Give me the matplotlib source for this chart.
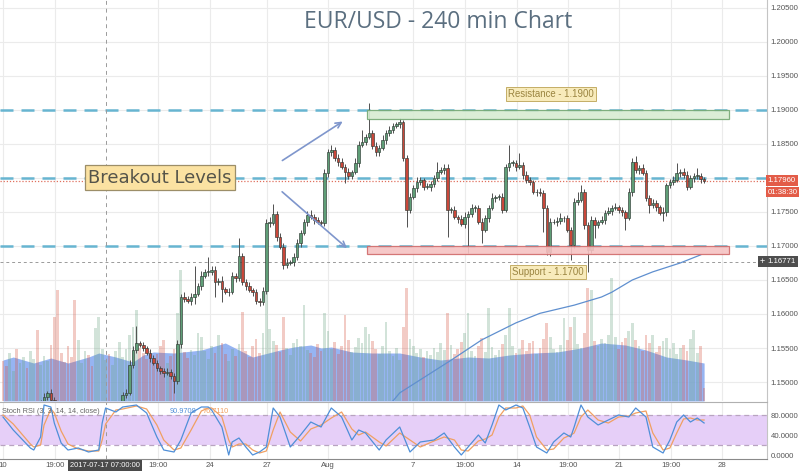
import matplotlib
matplotlib.use('Agg')
import matplotlib.pyplot as plt
import numpy as np
from matplotlib.patches import Rectangle

plt.rcParams['font.family'] = ['Liberation Sans', 'DejaVu Sans']

# ---------------- data ----------------
closes = [
    1.1400, 1.1395, 1.1405, 1.1412, 1.1408, 1.1420, 1.1432, 1.1428, 1.1440, 1.1452,
    1.1448, 1.1470, 1.1478, 1.1484, 1.1474, 1.1460, 1.1452, 1.1440, 1.1425, 1.1418,
    1.1405, 1.1398, 1.1410, 1.1422, 1.1430, 1.1418, 1.1405, 1.1412, 1.1428, 1.1440,
    1.1452, 1.1446, 1.1458, 1.1465, 1.1468, 1.1481, 1.1484, 1.1525, 1.1547, 1.1557,
    1.1554, 1.1550, 1.1543, 1.1535, 1.1528, 1.1521, 1.1516, 1.1513, 1.1514, 1.1509,
    1.1501, 1.1556, 1.1625, 1.1622, 1.1619, 1.1625, 1.1630, 1.1641, 1.1656, 1.1662,
    1.1662, 1.1665, 1.1647, 1.1649, 1.1637, 1.1632, 1.1633, 1.1656, 1.1653, 1.1685,
    1.1647, 1.1641, 1.1635, 1.1632, 1.1619, 1.1618, 1.1634, 1.1734, 1.1734, 1.1747,
    1.1713, 1.1699, 1.1672, 1.1675, 1.1676, 1.1684, 1.1704, 1.1719, 1.1735, 1.1746,
    1.1743, 1.1738, 1.1735, 1.1734, 1.1807, 1.1838, 1.1841, 1.1829, 1.1824, 1.1816,
    1.1809, 1.1803, 1.1809, 1.1822, 1.1849, 1.1853, 1.1860, 1.1866, 1.1847, 1.1838,
    1.1844, 1.1856, 1.1866, 1.1871, 1.1876, 1.1879, 1.1882, 1.1829, 1.1753, 1.1772,
    1.1785, 1.1794, 1.1797, 1.1787, 1.1787, 1.1791, 1.1800, 1.1809, 1.1812, 1.1815,
    1.1753, 1.1753, 1.1743, 1.1740, 1.1732, 1.1743, 1.1747, 1.1756, 1.1756, 1.1735,
    1.1724, 1.1741, 1.1756, 1.1771, 1.1772, 1.1772, 1.1753, 1.1816, 1.1822, 1.1822,
    1.1816, 1.1819, 1.1804, 1.1797, 1.1794, 1.1779, 1.1779, 1.1778, 1.1756, 1.1691,
    1.1735, 1.1735, 1.1737, 1.1741, 1.1741, 1.1724, 1.1701, 1.1765, 1.1768, 1.1779,
    1.1731, 1.1694, 1.1738, 1.1731, 1.1735, 1.1738, 1.1749, 1.1751, 1.1756, 1.1757,
    1.1753, 1.1750, 1.1741, 1.1779, 1.1824, 1.1812, 1.1815, 1.1807, 1.1771, 1.1760,
    1.1763, 1.1757, 1.1749, 1.1750, 1.1790, 1.1794, 1.1797, 1.1807, 1.1809, 1.1804,
    1.1787, 1.1800, 1.1803, 1.1803, 1.1798, 1.1796,
]
first_open = 1.1405

upper_wick_pips = [
    4, 6, 3, 5, 4, 7, 3, 5, 6, 4,
    5, 4, 6, 3, 5, 4, 6, 5, 3, 4,
    6, 4, 5, 3, 7, 4, 5, 6, 4, 3,
    5, 4, 6, 5, 3, 4, 5, 8, 6, 25,
    4, 5, 3, 6, 4, 5, 3, 4, 6, 5,
    4, 6, 5, 8, 4, 6, 40, 5, 7, 4,
    22, 6, 5, 4, 7, 3, 5, 6, 4, 27,
    5, 4, 6, 3, 5, 4, 6, 5, 8, 15,
    4, 6, 5, 7, 3, 5, 6, 4, 5, 6,
    7, 4, 5, 3, 6, 5, 8, 4, 6, 5,
    4, 5, 3, 7, 6, 18, 5, 44, 4, 6,
    5, 7, 4, 6, 5, 3, 6, 4, 5, 6,
    4, 7, 5, 3, 6, 4, 5, 15, 4, 6,
    5, 4, 6, 3, 5, 7, 4, 6, 5, 4,
    6, 5, 4, 7, 3, 5, 6, 4, 27, 5,
    4, 18, 5, 6, 4, 3, 5, 6, 4, 5,
    6, 4, 5, 7, 3, 5, 4, 6, 11, 11,
    5, 4, 6, 5, 3, 6, 4, 7, 5, 6,
    4, 5, 3, 6, 5, 8, 4, 6, 5, 4,
    6, 5, 4, 7, 3, 5, 6, 15, 4, 5,
    6, 4, 5, 12, 4, 3,
]
lower_wick_pips = [
    5, 4, 6, 3, 5, 4, 6, 4, 5, 3,
    6, 5, 4, 5, 3, 6, 4, 5, 3, 6,
    4, 5, 6, 3, 5, 4, 6, 3, 5, 4,
    6, 4, 5, 3, 6, 4, 5, 3, 4, 5,
    3, 5, 4, 6, 3, 5, 4, 6, 3, 5,
    17, 4, 6, 5, 3, 6, 10, 4, 5, 3,
    6, 5, 22, 4, 19, 3, 5, 4, 6, 5,
    4, 6, 3, 5, 4, 6, 5, 4, 6, 3,
    5, 4, 6, 4, 3, 5, 4, 6, 3, 5,
    4, 6, 3, 5, 4, 6, 5, 4, 6, 3,
    16, 4, 5, 3, 6, 4, 5, 3, 4, 6,
    5, 3, 6, 4, 5, 3, 6, 4, 25, 5,
    3, 6, 4, 5, 3, 6, 4, 5, 3, 6,
    40, 5, 4, 6, 3, 5, 53, 4, 6, 3,
    20, 4, 5, 3, 6, 4, 5, 3, 6, 4,
    5, 3, 6, 4, 5, 3, 6, 4, 35, 4,
    5, 3, 6, 4, 5, 3, 22, 4, 5, 3,
    6, 32, 4, 19, 5, 3, 6, 4, 5, 3,
    4, 6, 17, 3, 5, 4, 6, 3, 5, 11,
    4, 5, 3, 12, 6, 4, 5, 3, 6, 4,
    5, 3, 6, 4, 5, 4,
]

volumes = [
    40, 35, 48, 30, 52, 38, 44, 33, 50, 42,
    71, 36, 45, 40, 56, 84, 111, 48, 39, 55,
    44, 101, 61, 38, 50, 46, 35, 73, 84, 52,
    41, 47, 36, 50, 59, 44, 52, 66, 74, 91,
    53, 48, 42, 50, 39, 47, 55, 61, 38, 45,
    52, 88, 131, 49, 43, 51, 46, 68, 64, 50,
    42, 55, 48, 66, 58, 47, 40, 52, 45, 57,
    89, 50, 44, 55, 62, 48, 68, 118, 72, 60,
    56, 49, 84, 53, 46, 58, 62, 55, 96, 51,
    48, 44, 57, 50, 88, 70, 52, 59, 47, 55,
    86, 61, 49, 54, 63, 58, 74, 67, 60, 52,
    47, 55, 79, 50, 45, 53, 41, 74, 113, 62,
    55, 48, 52, 44, 50, 46, 53, 49, 58, 51,
    88, 56, 47, 52, 59, 68, 88, 50, 45, 55,
    63, 49, 93, 54, 46, 51, 57, 66, 93, 55,
    48, 52, 61, 50, 58, 60, 47, 53, 62, 78,
    64, 52, 49, 56, 83, 61, 74, 84, 57, 53,
    68, 113, 111, 60, 55, 62, 58, 66, 123, 64,
    52, 59, 63, 70, 78, 61, 55, 50, 66, 58,
    66, 49, 55, 60, 63, 52, 58, 47, 53, 56,
    50, 62, 71, 48, 55, 13,
]
vol_ma_idx = [0, 3, 9, 14, 19, 25, 28, 33, 38, 41, 44, 50, 58, 65, 69, 73, 81, 85,
              90, 93, 96, 102, 108, 116, 122, 128, 136, 142, 148, 155, 162, 169,
              175, 182, 188, 194, 200, 205]
vol_ma_val = [41, 44, 38, 43, 38, 44, 48, 44, 39, 46, 49, 48, 51, 58, 51, 44, 51, 54,
              56, 53, 54, 49, 48, 48, 44, 41, 44, 43, 46, 48, 49, 53,
              58, 56, 51, 44, 41, 38]

sma_idx = [110, 114, 116, 131, 140, 150, 157, 167, 175, 178, 184, 190, 198, 204]
sma_val = [1.1462, 1.1472, 1.1484, 1.1532, 1.1562, 1.1587, 1.1601, 1.1613, 1.1625,
           1.1632, 1.1650, 1.1662, 1.1675, 1.1687]

stoch_idx = [0, 3, 8, 9, 11, 12, 14, 15, 17, 19, 22, 25, 28, 29, 30, 33, 35, 39, 42, 45,
             47, 50, 52, 55, 58, 60, 61, 64, 66, 67, 69, 71, 73, 75, 77, 79, 81, 84, 87,
             90, 93, 96, 99, 102, 104, 106, 110, 112, 116, 119, 122, 126, 129, 132, 134,
             136, 139, 141, 143, 145, 147, 150, 152, 154, 156, 159, 161, 164, 166, 167,
             169, 171, 174, 177, 180, 183, 185, 188, 190, 193, 195, 197, 199, 201, 203, 205]
stoch_k = [76, 50, 14, 10, 36, 100, 96, 64, 24, 10, 14, 6, 10, 64, 94, 86, 96, 100, 84, 36,
           10, 6, 30, 84, 96, 96, 90, 56, 0, 26, 34, 16, 0, 6, 16, 94, 76, 16, 40,
           66, 56, 94, 76, 30, 50, 44, 10, 30, 56, 6, 26, 30, 44, 16, 0,
           16, 40, 24, 60, 100, 90, 100, 94, 56, 16, 4, 26, 44, 36, 56,
           100, 76, 60, 70, 80, 76, 94, 76, 16, 4, 30, 66, 80, 66, 74, 64]
stoch_d = [80, 62, 22, 16, 20, 60, 92, 84, 48, 22, 12, 8, 8, 30, 62, 90, 92, 98, 92, 60,
           30, 10, 14, 50, 88, 94, 94, 76, 30, 16, 22, 22, 10, 4, 8, 50, 86, 46, 28,
           52, 60, 74, 86, 52, 40, 46, 26, 18, 44, 30, 16, 28, 36, 30, 10,
           8, 28, 32, 40, 76, 94, 94, 98, 80, 36, 10, 12, 34, 40, 44,
           76, 90, 70, 64, 76, 78, 84, 88, 44, 10, 14, 44, 72, 74, 70, 70]

levels = [1.19, 1.18, 1.17]
resistance_zone = (1.1887, 1.1900)
support_zone = (1.1688, 1.1700)
zone_idx = (106.4, 212.3)
last_price = 1.1796
cross_price = 1.16771
cross_idx = 30.1
price_ticks = [1.150, 1.155, 1.160, 1.165, 1.170, 1.175, 1.180, 1.185, 1.190,
               1.195, 1.200, 1.205]
hidden_price_tick = 1.180   # covered by the last-price box in the chart
stoch_ticks = [0, 40, 80]
time_tick_pos = [0, 15.2, 45.3, 60.5, 77.2, 95, 119.9, 135.1, 150.3, 165.2, 180.1,
                 195.3, 210.2]
time_tick_labels = ['10', '19:00', '19:00', '24', '27', 'Aug', '7', '19:00', '14',
                    '19:00', '21', '19:00', '28']

# ---------------- figure ----------------
W, H = 800, 471
fig = plt.figure(figsize=(8, 4.71), dpi=100)
fig.patch.set_facecolor('white')


def rect(l, t, r, b):
    return [l / W, 1 - b / H, (r - l) / W, (b - t) / H]


XL = (-0.877, 223.39)
YL = (1.147206, 1.206176)
FS = 5.6

axv = fig.add_axes(rect(0, 0, 767, 401), zorder=0)
ax = fig.add_axes(rect(0, 0, 767, 401), zorder=1)
ax.patch.set_visible(False)
ax2 = fig.add_axes(rect(0, 402, 767, 459), zorder=1)

UP = '#5f9e77'
DN = '#c9473a'
GRID = '#ebebeb'

# volume layer
x = np.arange(len(closes))
c = np.array(closes)
o = np.array([first_open] + closes[:-1])
up = c >= o
axv.fill_between(vol_ma_idx, 0, vol_ma_val, color='#84a7f0', alpha=0.85, lw=0, zorder=1)
axv.bar(x, volumes, width=0.8, color=np.where(up, '#6ba583', '#d75442'), alpha=0.3,
        lw=0, zorder=2)
axv.set_xlim(XL)
axv.set_ylim(0, 401)
axv.set_xticks([])
axv.set_yticks([])
for s in axv.spines.values():
    s.set_visible(False)
for p in time_tick_pos:
    axv.axvline(p, color=GRID, lw=0.8, zorder=0)
for p in price_ticks:
    axv.axhline((p - YL[0]) / (YL[1] - YL[0]) * 401, color=GRID, lw=0.8, zorder=0)

# price layer
ax.set_xlim(XL)
ax.set_ylim(YL)
hi = np.maximum(o, c) + np.array(upper_wick_pips) / 10000
lo = np.minimum(o, c) - np.array(lower_wick_pips) / 10000
ax.vlines(x, lo, hi, color='#505050', lw=0.7, zorder=4)
body = np.maximum(np.abs(c - o), 0.00008)
ax.bar(x, body, bottom=np.minimum(o, c), width=0.75, color=np.where(up, UP, DN),
       edgecolor='#2f3a34', linewidth=0.45, zorder=5)

ax.plot(sma_idx, sma_val, color='#5f8fcf', lw=0.9, zorder=3)

for lv in levels:
    ax.axhline(lv, color='#67b5d1', lw=1.8, ls=(0, (5.2, 3.2)), zorder=2)
ax.axhline(last_price, color='#e0705e', lw=0.9, ls=(0, (1, 1.5)), zorder=2)
ax.axhline(cross_price, color='#9a9a9a', lw=0.7, ls=(0, (3, 3)), zorder=2)
ax.axvline(cross_idx, color='#9a9a9a', lw=0.7, ls=(0, (4, 4)), zorder=2)

ax.add_patch(Rectangle((zone_idx[0], resistance_zone[0]), zone_idx[1] - zone_idx[0],
                       resistance_zone[1] - resistance_zone[0], facecolor='#d7ecd2',
                       edgecolor='#74a874', lw=0.9, alpha=0.9, zorder=6))
ax.add_patch(Rectangle((zone_idx[0], support_zone[0]), zone_idx[1] - zone_idx[0],
                       support_zone[1] - support_zone[0], facecolor='#f6c2c2',
                       edgecolor='#d06a6a', lw=0.9, alpha=0.9, zorder=6))

ax.text(160.2, 1.19235, 'Resistance - 1.1900', fontsize=6.9, color='#9a8440',
        ha='center', va='center', zorder=8,
        bbox=dict(boxstyle='square,pad=0.22', fc='#f8ebbb', ec='#c4ad66', lw=0.7))
ax.text(159.4, 1.16618, 'Support - 1.1700', fontsize=6.9, color='#9a8440',
        ha='center', va='center', zorder=8,
        bbox=dict(boxstyle='square,pad=0.22', fc='#f8ebbb', ec='#c4ad66', lw=0.7))
ax.text(45.9, 1.18007, 'Breakout Levels', fontsize=13, color='#55544a',
        family=['DejaVu Sans'], ha='center', va='center', zorder=8,
        bbox=dict(boxstyle='square,pad=0.2', fc='#fbe2a2', ec='#9c8e68', lw=0.9))

ax.annotate('', xy=(100.0, 1.18853), xytext=(81.0, 1.18235),
            arrowprops=dict(arrowstyle='->', color='#7f96cc', lw=1.2), zorder=7)
ax.annotate('', xy=(101.2, 1.16941), xytext=(81.0, 1.17824),
            arrowprops=dict(arrowstyle='->', color='#7f96cc', lw=1.2), zorder=7)

ax.yaxis.tick_right()
ax.set_yticks(price_ticks)
ax.set_yticklabels(['' if abs(p - hidden_price_tick) < 1e-9 else '%.5f' % p
                    for p in price_ticks])
ax.tick_params(axis='y', length=0, pad=2.5, labelsize=FS, labelcolor='#555555')
ax.set_xticks([])
for k, s in ax.spines.items():
    s.set_visible(k == 'right')
ax.spines['right'].set_color('#c4c4c4')

ytr = ax.get_yaxis_transform()
ax.text(1.001, last_price, '1.17960', transform=ytr, fontsize=FS, color='white',
        ha='left', va='center', zorder=9,
        bbox=dict(boxstyle='square,pad=0.25', fc='#e35c48', ec='none'))
ax.annotate('01:38:30', xy=(1.001, last_price), xycoords=ytr, xytext=(0, -8.4),
            textcoords='offset points', fontsize=FS, color='white', ha='left',
            va='center', annotation_clip=False, zorder=9,
            bbox=dict(boxstyle='square,pad=0.2', fc='#e35c48', ec='none'))
ax.text(1.001, cross_price, '1.16771', transform=ytr, fontsize=FS, color='white',
        ha='left', va='center', zorder=9,
        bbox=dict(boxstyle='square,pad=0.25', fc='#4e4e4e', ec='none'))
ax.text(0.9935, cross_price, '+', transform=ytr, fontsize=6.5, color='white',
        ha='center', va='center', zorder=9,
        bbox=dict(boxstyle='square,pad=0.15', fc='#4e4e4e', ec='none'))

# stoch RSI panel
ax2.set_xlim(XL)
ax2.set_ylim(-8, 106)
for p in time_tick_pos:
    ax2.axvline(p, color=GRID, lw=0.8, zorder=0)
ax2.axhspan(20, 80, color='#e6cff8', zorder=1, lw=0)
ax2.axhline(80, color='#b8a4c0', lw=0.9, ls=(0, (4, 3)), zorder=2)
ax2.axhline(20, color='#b8a4c0', lw=0.9, ls=(0, (4, 3)), zorder=2)
ax2.axvline(cross_idx, color='#9a9a9a', lw=0.7, ls=(0, (4, 4)), zorder=2)
ax2.plot(stoch_idx, stoch_d, color='#f0a062', lw=0.9, zorder=3)
ax2.plot(stoch_idx, stoch_k, color='#4f8fd8', lw=0.9, zorder=4)
ax2.yaxis.tick_right()
ax2.set_yticks(stoch_ticks)
ax2.set_yticklabels(['%.4f' % v for v in stoch_ticks])
ax2.tick_params(axis='y', length=0, pad=2.5, labelsize=FS, labelcolor='#555555')
ax2.set_xticks(time_tick_pos)
ax2.set_xticklabels(time_tick_labels)
ax2.tick_params(axis='x', length=0, pad=2.5, labelsize=FS, labelcolor='#555555')
ax2.spines['left'].set_visible(False)
ax2.spines['top'].set_color('#b0b0b0')
ax2.spines['right'].set_color('#c4c4c4')
ax2.spines['bottom'].set_color('#8a8a8a')

ax2.text(0.003, 0.83, 'Stoch RSI (3, 3, 14, 14, close)', transform=ax2.transAxes,
         fontsize=5.3, color='#666666', ha='left', va='center', zorder=6)
ax2.text(170 / 767, 0.83, '90.9708', transform=ax2.transAxes, fontsize=5.3,
         color='#4f8fd8', ha='left', va='center', zorder=6)
ax2.text(203 / 767, 0.83, '76.7110', transform=ax2.transAxes, fontsize=5.3,
         color='#f0a062', ha='left', va='center', zorder=6)

fig.text(105 / W, 1 - 465.5 / H, '2017-07-17 07:00:00', fontsize=5.4, color='white',
         ha='center', va='center',
         bbox=dict(boxstyle='square,pad=0.25', fc='#4a4a4a', ec='none'))

fig.text(438 / W, 1 - 22 / H, 'EUR/USD - 240 min Chart', fontsize=16.5,
         family=['Open Sans', 'DejaVu Sans'], color='#5b6f80', ha='center',
         va='center')

fig.savefig('out.png', dpi=100, facecolor='white')
